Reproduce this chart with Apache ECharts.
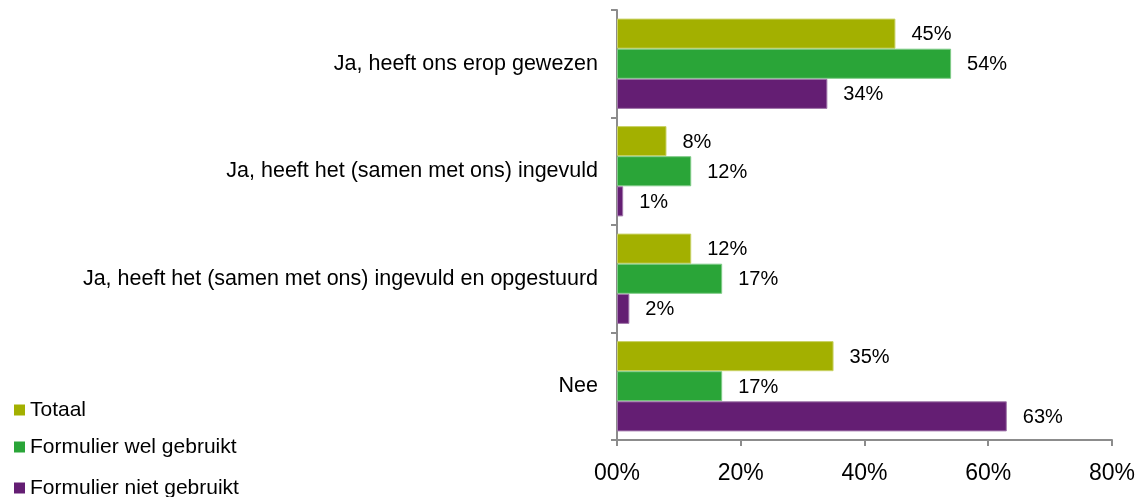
<!DOCTYPE html>
<html><head><meta charset="utf-8">
<script src="https://cdn.jsdelivr.net/npm/echarts@6/dist/echarts.min.js"></script>
<style>html,body{margin:0;padding:0;background:#fff}#c{width:1138px;height:497px}</style>
</head><body><div id="c"></div>
<script>
const categories = ['Ja, heeft ons erop gewezen','Ja, heeft het (samen met ons) ingevuld','Ja, heeft het (samen met ons) ingevuld en opgestuurd','Nee'];
const seriesNames = ['Totaal','Formulier wel gebruikt','Formulier niet gebruikt'];
const totaal = [45, 8, 12, 35];
const welGebruikt = [54, 12, 17, 17];
const nietGebruikt = [34, 1, 2, 63];
const xTicks = ['00%','20%','40%','60%','80%'];

const colors = ['#A3B000','#2AA538','#641E73'];
const borders = ['#C9D266','#7FCB87','#A278AB'];
const font = 'Liberation Sans, Arial, sans-serif';
const chart = echarts.init(document.getElementById('c'));
const mk = (name, data, i) => ({
  name, type:'bar', data, barGap:'0%', barCategoryGap:'16%',
  itemStyle:{color:colors[i], borderColor:borders[i], borderWidth:1},
  label:{show:true, position:'right', distance:16, offset:[0,1], formatter:p=>p.value+'%', color:'#000', fontSize:20, fontFamily:font}
});
const legendTops = [398, 435, 476];
const legends = seriesNames.map((n, i) => ({
  orient:'vertical', left:14, top:legendTops[i], padding:0, itemWidth:11, itemHeight:11, itemGap:0,
  icon:'rect', data:[n], selectedMode:false,
  itemStyle:{borderWidth:0},
  textStyle:{fontSize:21, fontFamily:font, color:'#000', lineHeight:24}
}));
chart.setOption({
  animation:false,
  color:colors,
  grid:{left:617, right:26, top:10, bottom:57, containLabel:false},
  legend:legends,
  xAxis:{
    type:'value', min:0, max:80, interval:20,
    axisLine:{show:true, lineStyle:{color:'#8c8c8c', width:2}},
    axisTick:{show:true, length:6, lineStyle:{color:'#8c8c8c', width:2}},
    splitLine:{show:false},
    axisLabel:{formatter:v=>xTicks[v/20], fontSize:23, fontFamily:font, color:'#000', margin:22}
  },
  yAxis:{
    type:'category', inverse:true, data:categories,
    axisLine:{show:true, lineStyle:{color:'#8c8c8c', width:2}},
    axisTick:{show:true, length:6, lineStyle:{color:'#8c8c8c', width:2}},
    axisLabel:{fontSize:21.5, fontFamily:font, color:'#000', margin:19, padding:[3,0,0,0]}
  },
  series:[mk(seriesNames[0], totaal, 0), mk(seriesNames[1], welGebruikt, 1), mk(seriesNames[2], nietGebruikt, 2)]
});
</script></body></html>
